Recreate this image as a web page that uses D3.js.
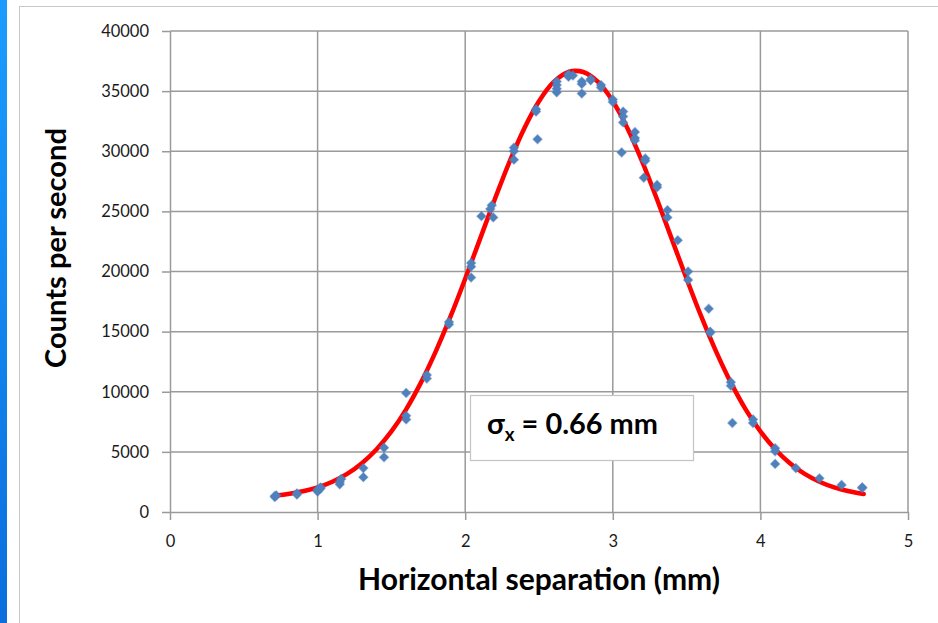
<!DOCTYPE html>
<html><head><meta charset="utf-8">
<script src="https://cdn.jsdelivr.net/npm/d3@7"></script>
<style>body{margin:0;background:#fff;overflow:hidden} svg{display:block}</style>
</head><body><svg id="c" width="938" height="623"></svg>
<script>
// ---- data ----
const xTicks = [0, 1, 2, 3, 4, 5];
const yTicks = [0, 5000, 10000, 15000, 20000, 25000, 30000, 35000, 40000];
const xTitle = "Horizontal separation (mm)";
const yTitle = "Counts per second";
const annotation = ["σ", "x", " = 0.66 mm"];

// measured points (mm, counts/s)
const pointX = [0.71,0.71,0.72, 0.86,0.86, 1.00,1.00,1.02,1.02, 1.15,1.15,1.16,
  1.31,1.31, 1.45,1.45, 1.60,1.60,1.60, 1.74,1.74, 1.89,1.89,
  2.04,2.04,2.04, 2.17,2.18,2.11,2.19, 2.33,2.33,2.33, 2.48,2.48,2.49,
  2.62,2.62,2.62,2.62, 2.70,2.70,2.73, 2.79,2.79,2.79, 2.85,2.85, 2.92,2.92,
  3.00,3.00, 3.07,3.07,3.07,3.06, 3.15,3.15,3.15, 3.22,3.22,3.21, 3.30,3.30,
  3.37,3.37, 3.44, 3.51,3.51, 3.65,3.66,3.66, 3.80,3.80,3.81, 3.95,3.95,
  4.10,4.10,4.10, 4.24, 4.40, 4.55, 4.69,4.69];
const pointY = [1250,1330,1380, 1450,1550, 1700,1850,1950,2050, 2300,2500,2750,
  3650,2900, 5350,4550, 9900,7700,8000, 11100,11400, 15600,15800,
  20400,20700,19500, 25200,25500,24600,24500, 30000,30300,29300, 33300,33500,31000,
  35500,35800,34900,35200, 36200,36400,36300, 35800,34800,35600, 35900,36000, 35500,35300,
  34300,34100, 33300,32400,32900,29900, 31600,31100,30900, 29400,29200,27800, 27200,27000,
  25100,24500, 22600, 20000,19300, 16900,15000,14900, 10800,10500,7400, 7700,7400,
  5300,5050,4000, 3650, 2800, 2250, 2050,2000];

// Gaussian fit curve
const fitX = [0.72,0.8,0.9,1.0,1.1,1.2,1.3,1.4,1.5,1.6,1.7,1.8,1.9,2.0,2.1,2.2,2.3,2.4,2.5,2.6,2.7,
  2.8,2.9,3.0,3.1,3.2,3.3,3.4,3.5,3.6,3.7,3.8,3.9,4.0,4.1,4.2,4.3,4.4,4.5,4.6,4.7];
const fitY = [1370,1500,1720,2050,2520,3170,4060,5220,6700,8540,10760,13340,16240,19400,22690,25990,29120,31900,34160,35760,36590,
  36590,35760,34160,31900,29120,25990,22690,19400,16240,13340,10760,8540,6700,5220,4060,3170,2520,2050,1720,1500];

// ---- drawing ----
const svg = d3.select("#c");
const font = "Lato, 'Open Sans', sans-serif";

// left blue strip
const defs = svg.append("defs");
const lg = defs.append("linearGradient").attr("id","strip").attr("x1",0).attr("y1",0).attr("x2",0).attr("y2",1);
lg.append("stop").attr("offset","0%").attr("stop-color","#1c9cff");
lg.append("stop").attr("offset","100%").attr("stop-color","#0a6ede");
svg.append("rect").attr("x",0).attr("y",0).attr("width",7).attr("height",623).attr("fill","url(#strip)");

// chart frame
svg.append("rect").attr("x",19.5).attr("y",6.5).attr("width",940).attr("height",640)
  .attr("fill","#fff").attr("stroke","#c8c8c8").attr("stroke-width",1);

const x = d3.scaleLinear().domain([0,5]).range([170,908]);
const y = d3.scaleLinear().domain([0,40000]).range([512,31]);
const grid = "#9a9a9a";

// gridlines
svg.append("g").selectAll("line").data(yTicks.filter(d=>d>0)).join("line")
  .attr("x1",x(0)).attr("x2",x(5)).attr("y1",d=>y(d)).attr("y2",d=>y(d))
  .attr("stroke",grid).attr("stroke-width",1.5);
svg.append("g").selectAll("line").data(xTicks.filter(d=>d>0)).join("line")
  .attr("x1",d=>x(d)).attr("x2",d=>x(d)).attr("y1",y(0)).attr("y2",y(40000))
  .attr("stroke",grid).attr("stroke-width",1.5);

// axes
const yAxis = svg.append("g").attr("transform",`translate(${x(0)},0)`)
  .call(d3.axisLeft(y).tickValues(yTicks).tickSize(8).tickPadding(13).tickSizeOuter(0).tickFormat(d3.format("d")));
const xAxis = svg.append("g").attr("transform",`translate(0,${y(0)})`)
  .call(d3.axisBottom(x).tickValues(xTicks).tickSize(8).tickPadding(15).tickSizeOuter(0).tickFormat(d3.format("d")));
[yAxis,xAxis].forEach(g=>{
  g.select(".domain").attr("stroke",grid).attr("stroke-width",1.5);
  g.selectAll(".tick line").attr("stroke",grid).attr("stroke-width",1.5);
  g.selectAll(".tick text").attr("font-family",font).attr("font-size",16.5).attr("fill","#1a1a1a");
});

// fit curve
const line = d3.line().x((d,i)=>x(fitX[i])).y((d,i)=>y(fitY[i])).curve(d3.curveCatmullRom);
svg.append("path").datum(fitX).attr("d",line).attr("fill","none")
  .attr("stroke","#ff0000").attr("stroke-width",4.5).attr("stroke-linecap","round");

// points (diamonds)
const sym = d3.symbol().type(d3.symbolSquare).size(42);
svg.append("g").selectAll("path").data(pointX).join("path")
  .attr("d",sym)
  .attr("transform",(d,i)=>`translate(${x(pointX[i])},${y(pointY[i])}) rotate(45)`)
  .attr("fill","#4f81bd").attr("stroke","#4f81bd").attr("stroke-width",1.2).attr("stroke-opacity",0.45);

// annotation box
svg.append("rect").attr("x",470.5).attr("y",395.5).attr("width",223).attr("height",65)
  .attr("fill","#fff").attr("stroke","#c4c4c4").attr("stroke-width",1.2);
const annFs = 24;
const ann = svg.append("text").attr("x",487).attr("y",434).attr("font-family",font)
  .attr("font-weight","bold").attr("font-size",annFs).attr("fill","#000");
const t0 = ann.append("tspan").text(annotation[0]);
const t1 = ann.append("tspan").attr("font-size",annFs*0.65).attr("dy",6).text(annotation[1]);
const t2 = ann.append("tspan").attr("dy",-6).text(annotation[2]);
{
  const w = ann.node().getComputedTextLength();
  const k = 171 / w;
  ann.attr("font-size", annFs*k);
  t1.attr("font-size", annFs*0.65*k).attr("dy",6*k);
  t2.attr("dy",-6*k);
}

// axis titles
function fit(sel, target){
  const w = sel.node().getComputedTextLength();
  const fs = parseFloat(sel.attr("font-size"));
  sel.attr("font-size", fs*target/w);
}
const xt = svg.append("text").attr("x",539).attr("y",590).attr("text-anchor","middle")
  .attr("font-family",font).attr("font-weight","bold").attr("font-size",24).attr("fill","#000").text(xTitle);
fit(xt,362);
const yt = svg.append("text").attr("transform","translate(66,248) rotate(-90)").attr("text-anchor","middle")
  .attr("font-family",font).attr("font-weight","bold").attr("font-size",24).attr("fill","#000").text(yTitle);
fit(yt,240);
</script></body></html>
